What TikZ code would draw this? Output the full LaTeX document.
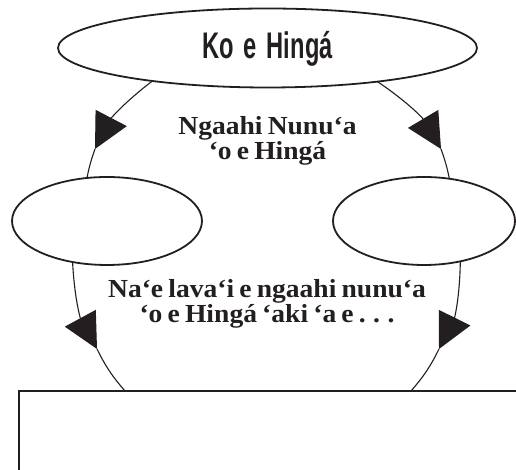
\documentclass[tikz,border=0pt]{standalone}
\usepackage{fontspec}
\usepackage{graphicx}
\newfontfamily\headfont{Liberation Sans}
\newfontfamily\bodyfont[FakeStretch=1.06,WordSpace=0.75]{Liberation Serif}
\usetikzlibrary{arrows.meta,shapes.geometric}
\definecolor{ink}{HTML}{231F20}
\begin{document}
\begin{tikzpicture}[x=1pt,y=1pt,
  oval/.style={ellipse, draw=ink, line width=1.8pt, inner sep=0pt, outer sep=0pt, fill=white},
  link/.style={draw=ink, line width=1.1pt},
  tipline/.style={link, -{Triangle[length=35pt,width=35pt]}},
  lab/.style={font=\bodyfont\bfseries\fontsize{26}{25}\selectfont, text=ink, align=center, anchor=base, inner sep=0pt}
]
\useasboundingbox (0,0) rectangle (516,470);
\node[oval, minimum width=419pt, minimum height=79pt, text=ink,
      text height=27pt, text depth=5pt,
      font=\headfont\bfseries\fontsize{37}{37}\selectfont] (top) at (267.5,422) {\scalebox{0.64}[1]{Ko\hspace{0.42em}e\hspace{0.42em}Hingá}};
\node[oval, minimum width=190pt, minimum height=88pt] (left) at (107,249) {};
\node[oval, minimum width=182pt, minimum height=88pt] (right) at (424,249) {};
\node[draw=ink, line width=2pt, inner sep=0pt, outer sep=0pt, minimum width=497.5pt, minimum height=100pt, anchor=north west] (box) at (19,79) {};

\node[lab] (lab1) at (267.5,310) {Ngaahi Nunu‘a\\‘o e Hingá};
\node[lab] (lab2) at (267,147) {Na‘e lava‘i e ngaahi nunu‘a\\‘o e Hingá ‘aki ‘a e . . .};

\coordinate (a1) at (95,321);
\coordinate (a2) at (441,321);
\coordinate (a3) at (97,121);
\coordinate (a4) at (439,121);

\draw[tipline] (top.196.9) to[bend right=12.6] (a1);
\draw[link] (a1) to[bend right=4] (left.115.6);
\draw[tipline] (top.343.1) to[bend left=12.6] (a2);
\draw[link] (a2) to[bend left=4] (right.59.6);
\draw[tipline] (left.230.9) to[bend right=12.8] (a3);
\draw[link] (a3) to[bend right=7.3] ([xshift=-142.75pt]box.north);
\draw[tipline] (right.312.9) to[bend left=12.8] (a4);
\draw[link] (a4) to[bend left=7.3] ([xshift=143.25pt]box.north);
\end{tikzpicture}
\end{document}
